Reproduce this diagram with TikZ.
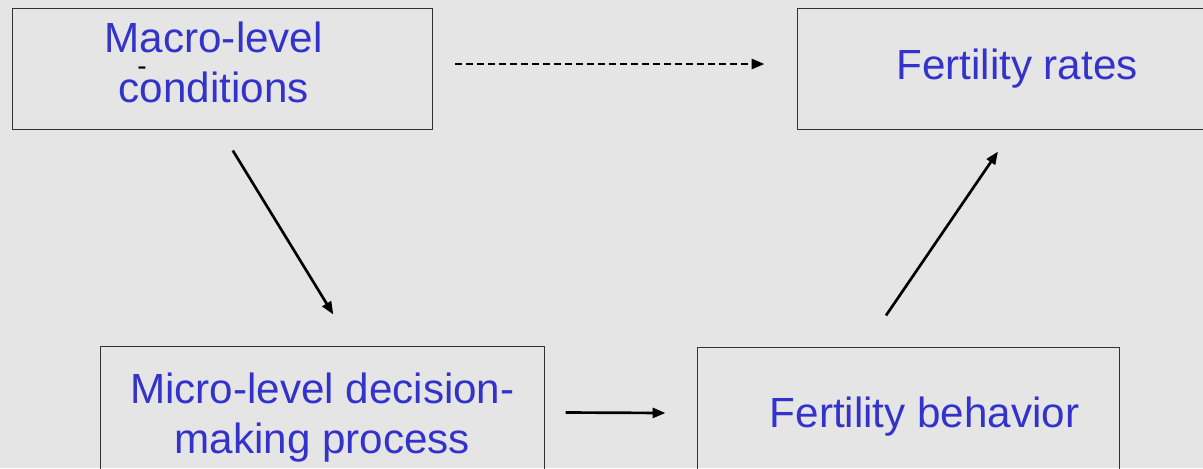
\documentclass[tikz,border=0pt]{standalone}
\usepackage{fontspec}
\setmainfont{Liberation Sans}
\usepackage{tikz}
\usetikzlibrary{arrows.meta}
\usetikzlibrary{calc}
\definecolor{slide-gray}{gray}{0.9}
\definecolor{slide-blue}{RGB}{51,51,204}
\tikzset{
every picture/.style={line width=1.9pt,
                       >={Triangle[length=0.32cm,width=0.25cm]}},
%%%%%%%%%%  Node styles
box/.style={rectangle, draw=black!80, line width=0.7pt, align=center,
            inner sep=0pt, text=slide-blue,
            font=\fontsize{30}{35.6}\selectfont},
stray/.style={inner sep=0pt, text=black, font=\fontsize{20}{20}\selectfont},
%%%% different line styles:
link/.style={->, draw=black},
dashed_link/.style={->, draw=black, dash pattern=on 0.175cm off 0.1cm}
}

\begin{document}
\begin{tikzpicture}[x=0.025cm, y=-0.025cm]
\fill[slide-gray] (0,0) rectangle (1203,468);
\clip (0,0) rectangle (1203,468);
%% boxes
\node[box, minimum width=10.5cm, minimum height=3cm, text depth=0.33cm]
	(macro) at (222.8,69) {Macro-level\hspace*{0.45cm}\\conditions\hspace*{0.45cm}};
\node[stray] (stray) at (142,71) {-};
\node[box, minimum width=10.95cm, minimum height=3cm]
	(rates) at (1017,69) {Fertility rates};
\node[box, minimum width=11.09cm, minimum height=3.525cm]
	(micro) at (322.3,417.5) {Micro-level decision-\\making process};
\node[box, minimum width=10.525cm, minimum height=3.45cm]
	(behavior) at (908.5,417) {\hspace*{0.8cm}Fertility behavior};
%% arrows between boxes
\draw[dashed_link] ($(macro.east)+(22,-5)$) -- ($(rates.west)+(-33,-5)$);
\draw[link] ($(macro.south)+(10,21)$) -- ($(micro.north)+(11,-32)$);
\draw[link] ($(micro.east)+(21,-5)$) -- ($(behavior.west)+(-32,-4)$);
\draw[link] ($(behavior.north)+(-22.5,-32)$) -- ($(rates.south)+(-19,22)$);
\end{tikzpicture}
\end{document}
